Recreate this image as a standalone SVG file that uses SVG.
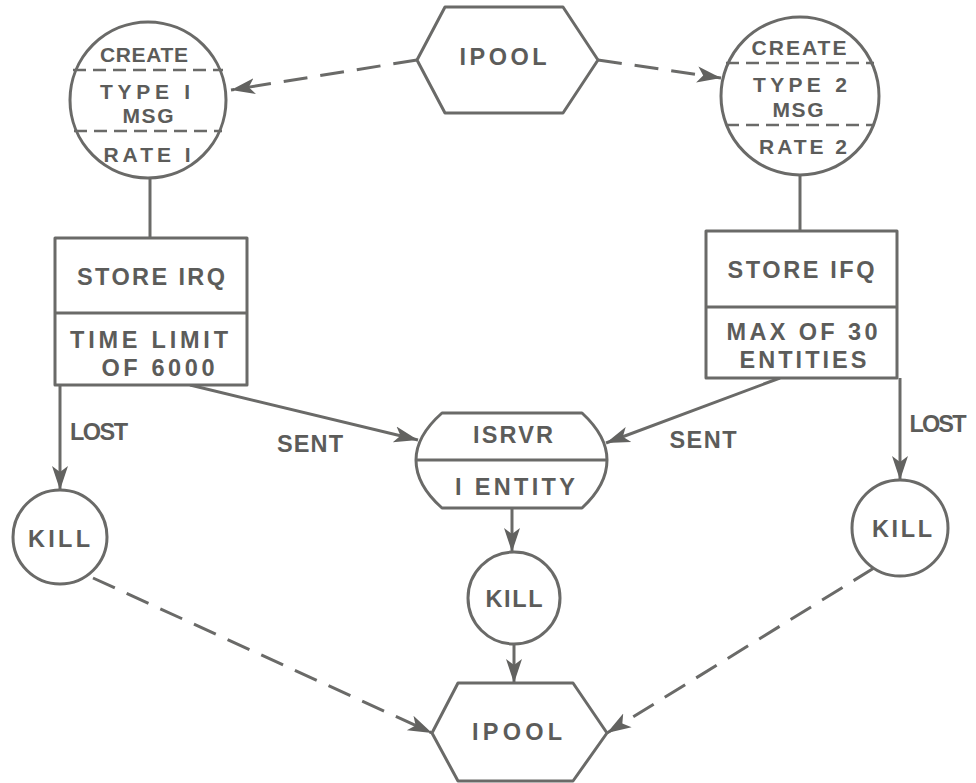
<svg xmlns="http://www.w3.org/2000/svg" width="976" height="783" viewBox="0 0 976 783">
<defs>
<style>
.s{fill:none;stroke:#6a6a68;stroke-width:3;stroke-linejoin:round}
.w{fill:#ffffff;stroke:#6a6a68;stroke-width:3;stroke-linejoin:round}
.dv{fill:none;stroke:#6a6a68;stroke-width:2.5;stroke-dasharray:13 7}
.t{font-family:"Liberation Sans","DejaVu Sans",sans-serif;font-weight:bold;font-size:23.5px;fill:#5c5c5a;text-anchor:middle}
.ts{font-size:21px}
.c{fill:none;stroke:#6a6a68;stroke-width:3}
.c2{fill:none;stroke:#6a6a68;stroke-width:3;stroke-dasharray:24 13}
</style>
<marker id="ah" markerUnits="userSpaceOnUse" markerWidth="26" markerHeight="20" viewBox="0 0 26 20" refX="24" refY="10" orient="auto">
<path d="M0,2 L24,10 L0,18 L6,10 Z" fill="#626260"/>
</marker>
</defs>
<rect width="976" height="783" fill="#ffffff"/>

<g id="connectors">
<line class="c2" x1="417" y1="60" x2="231" y2="90" marker-end="url(#ah)"/>
<line class="c2" x1="598" y1="60" x2="721" y2="78" marker-end="url(#ah)"/>
<line class="c" x1="150" y1="178" x2="150" y2="238"/>
<line class="c" x1="800" y1="175" x2="800" y2="231"/>
<line class="c" x1="60" y1="385" x2="60" y2="490" marker-end="url(#ah)"/>
<line class="c" x1="900" y1="378" x2="900" y2="480" marker-end="url(#ah)"/>
<line class="c" x1="190" y1="385" x2="418" y2="440" marker-end="url(#ah)"/>
<line class="c" x1="780" y1="378" x2="606" y2="443" marker-end="url(#ah)"/>
<line class="c" x1="512" y1="508" x2="512" y2="552" marker-end="url(#ah)"/>
<line class="c" x1="514" y1="644" x2="514" y2="683" marker-end="url(#ah)"/>
<line class="c2" x1="93" y1="578" x2="432" y2="733" marker-end="url(#ah)"/>
<line class="c2" x1="874" y1="568" x2="607" y2="733" marker-end="url(#ah)"/>
</g>

<g id="ipool-top">
<polygon class="w" points="445,7 563,7 598,60 563,113 445,113 417,60"/>
<text class="t" x="503" y="65" textLength="87" lengthAdjust="spacing">IPOOL</text>
</g>

<g id="create-type1">
<circle class="w" cx="148" cy="100" r="78"/>
<line class="dv" x1="73" y1="70" x2="223" y2="70"/>
<line class="dv" x1="74" y1="131" x2="222" y2="131"/>
<text class="t ts" x="144" y="62" textLength="88" lengthAdjust="spacing">CREATE</text>
<text class="t ts" x="145" y="99" textLength="90" lengthAdjust="spacing">TYPE I</text>
<text class="t ts" x="148" y="123" textLength="51" lengthAdjust="spacing">MSG</text>
<text class="t ts" x="147" y="162" textLength="87" lengthAdjust="spacing">RATE I</text>
</g>

<g id="create-type2">
<circle class="w" cx="800" cy="96" r="79"/>
<line class="dv" x1="726" y1="63" x2="874" y2="63"/>
<line class="dv" x1="726" y1="125" x2="874" y2="125"/>
<text class="t ts" x="799" y="55" textLength="95" lengthAdjust="spacing">CREATE</text>
<text class="t ts" x="800" y="92" textLength="94" lengthAdjust="spacing">TYPE 2</text>
<text class="t ts" x="798" y="117" textLength="51" lengthAdjust="spacing">MSG</text>
<text class="t ts" x="803" y="154" textLength="88" lengthAdjust="spacing">RATE 2</text>
</g>

<g id="store-irq">
<rect class="w" x="55" y="238" width="192" height="147"/>
<line class="s" x1="55" y1="313" x2="247" y2="313"/>
<text class="t" x="151" y="285" textLength="148" lengthAdjust="spacing">STORE IRQ</text>
<text class="t" x="149" y="348" textLength="158" lengthAdjust="spacing">TIME LIMIT</text>
<text class="t" x="158" y="376" textLength="113" lengthAdjust="spacing">OF 6000</text>
</g>

<g id="store-ifq">
<rect class="w" x="706" y="231" width="191" height="147"/>
<line class="s" x1="706" y1="307" x2="897" y2="307"/>
<text class="t" x="801" y="278" textLength="147" lengthAdjust="spacing">STORE IFQ</text>
<text class="t" x="802" y="340" textLength="151" lengthAdjust="spacing">MAX OF 30</text>
<text class="t" x="803" y="368" textLength="127" lengthAdjust="spacing">ENTITIES</text>
</g>

<g id="isrvr">
<path class="w" d="M442,413 L582,413 Q607,436 607,460 Q607,485 582,508 L442,508 Q416,485 416,460 Q416,436 442,413 Z"/>
<line class="s" x1="417" y1="460" x2="606" y2="460"/>
<text class="t" x="513" y="443" textLength="80" lengthAdjust="spacing">ISRVR</text>
<text class="t" x="515" y="495" textLength="120" lengthAdjust="spacing">I ENTITY</text>
</g>

<g id="kill-left">
<circle class="w" cx="60" cy="537" r="47"/>
<text class="t" x="59" y="547" textLength="62" lengthAdjust="spacing">KILL</text>
</g>

<g id="kill-middle">
<circle class="w" cx="514" cy="598" r="46"/>
<text class="t" x="514" y="607" textLength="57" lengthAdjust="spacing">KILL</text>
</g>

<g id="kill-right">
<circle class="w" cx="900" cy="528" r="48"/>
<text class="t" x="902" y="537" textLength="60" lengthAdjust="spacing">KILL</text>
</g>

<g id="ipool-bottom">
<polygon class="w" points="458,683 573,683 607,733 573,781 458,781 432,733"/>
<text class="t" x="517" y="740" textLength="90" lengthAdjust="spacing">IPOOL</text>
</g>

<g id="labels">
<text class="t" x="99" y="440" textLength="58" lengthAdjust="spacing">LOST</text>
<text class="t" x="938" y="432" textLength="57" lengthAdjust="spacing">LOST</text>
<text class="t" x="310" y="452" textLength="66" lengthAdjust="spacing">SENT</text>
<text class="t" x="703" y="448" textLength="67" lengthAdjust="spacing">SENT</text>
</g>
</svg>
